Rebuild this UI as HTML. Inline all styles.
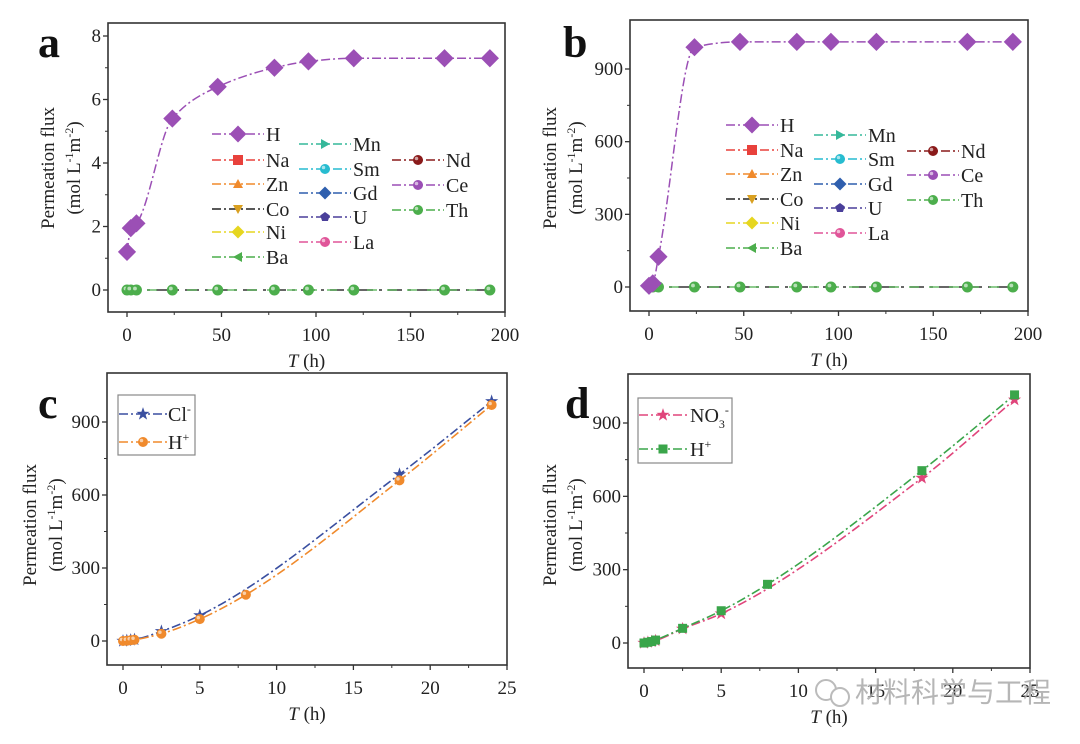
<!DOCTYPE html>
<html><head><meta charset="utf-8"><style>
html,body{margin:0;padding:0;background:#fff;}
svg{display:block;font-family:"Liberation Serif",serif;}
</style></head><body>
<svg id="s" width="1080" height="744" xmlns="http://www.w3.org/2000/svg"></svg>
<script>
const S=document.getElementById('s');let out='';
function cr(p){const n=p.length;const dx=[],sl=[];for(let i=0;i<n-1;i++){dx.push(p[i+1][0]-p[i][0]);sl.push((p[i+1][1]-p[i][1])/dx[i]);}
 const m=[sl[0]];for(let i=1;i<n-1;i++){if(sl[i-1]*sl[i]<=0)m.push(0);else{const w1=2*dx[i]+dx[i-1],w2=dx[i]+2*dx[i-1];m.push((w1+w2)/(w1/sl[i-1]+w2/sl[i]));}}m.push(sl[n-2]);
 let d='M'+p[0][0]+','+p[0][1];for(let i=0;i<n-1;i++){const h=dx[i]/3;d+=` C${p[i][0]+h},${p[i][1]+m[i]*h} ${p[i+1][0]-h},${p[i+1][1]-m[i+1]*h} ${p[i+1][0]},${p[i+1][1]}`;}return d;}
function mk(type,x,y,c,s){s=s||6;
 if(type=='dia')return `<polygon points="${x},${y-s*1.3} ${x+s*1.3},${y} ${x},${y+s*1.3} ${x-s*1.3},${y}" fill="${c}"/>`;
 if(type=='cir')return `<circle cx="${x}" cy="${y}" r="${s}" fill="${c}"/><circle cx="${x-1.5}" cy="${y-1.5}" r="${s*0.35}" fill="#fff" opacity=".6"/>`;
 if(type=='sq')return `<rect x="${x-s}" y="${y-s}" width="${2*s}" height="${2*s}" fill="${c}"/>`;
 if(type=='tri')return `<polygon points="${x},${y-s} ${x+s},${y+s*.8} ${x-s},${y+s*.8}" fill="${c}"/>`;
 if(type=='tri2')return `<polygon points="${x},${y+s} ${x+s},${y-s*.8} ${x-s},${y-s*.8}" fill="${c}"/>`;
 if(type=='trr')return `<polygon points="${x+s},${y} ${x-s*.8},${y-s} ${x-s*.8},${y+s}" fill="${c}"/>`;
 if(type=='trl')return `<polygon points="${x-s},${y} ${x+s*.8},${y-s} ${x+s*.8},${y+s}" fill="${c}"/>`;
 if(type=='pent'){let p=[];for(let i=0;i<5;i++){const a=-Math.PI/2+i*2*Math.PI/5;p.push((x+s*Math.cos(a)).toFixed(1)+','+(y+s*Math.sin(a)).toFixed(1));}return `<polygon points="${p.join(' ')}" fill="${c}"/>`;}
 if(type=='star'){let p=[];for(let i=0;i<10;i++){const r=i%2?s*0.45:s*1.15;const a=-Math.PI/2+i*Math.PI/5;p.push((x+r*Math.cos(a)).toFixed(1)+','+(y+r*Math.sin(a)).toFixed(1));}return `<polygon points="${p.join(' ')}" fill="${c}"/>`;}
}
const DASH='stroke-dasharray="9,3,2,3"';
function axes(o){
 let g=`<rect x="${o.bx0}" y="${o.by0}" width="${o.bx1-o.bx0}" height="${o.by1-o.by0}" fill="none" stroke="#333" stroke-width="1.6"/>`;
 const X=v=>o.x0+(o.x1-o.x0)*v/o.xmax;
 for(let v=0;v<=o.xmax;v+=o.xstep){g+=`<line x1="${X(v)}" x2="${X(v)}" y1="${o.by1}" y2="${o.by1+5}" stroke="#333" stroke-width="1.3"/>`;
  g+=`<text x="${X(v)}" y="${o.by1+29}" font-size="19" text-anchor="middle" fill="#222">${v}</text>`;
  const m=X(v+o.xstep/2);if(v+o.xstep/2<=o.xmax)g+=`<line x1="${m}" x2="${m}" y1="${o.by1}" y2="${o.by1+3}" stroke="#333"/>`;}
 o.yt.forEach((t,i)=>{g+=`<line x1="${o.bx0-5}" x2="${o.bx0}" y1="${t}" y2="${t}" stroke="#333" stroke-width="1.3"/>`;
  g+=`<text x="${o.bx0-7}" y="${t+6}" font-size="19" text-anchor="end" fill="#222">${o.yl[i]}</text>`;
  if(i<o.yt.length-1){const m=(t+o.yt[i+1])/2;g+=`<line x1="${o.bx0-3}" x2="${o.bx0}" y1="${m}" y2="${m}" stroke="#333"/>`;}});
 const cx=(o.bx0+o.bx1)/2;
 g+=`<text x="${cx}" y="${o.by1+55}" font-size="19" text-anchor="middle" fill="#222"><tspan font-style="italic">T</tspan> (h)</text>`;
 g+=`<text transform="translate(${o.yx},${o.yc}) rotate(-90)" font-size="19" text-anchor="middle" fill="#222">Permeation flux</text>`;
 g+=`<text transform="translate(${o.yx+26},${o.yc}) rotate(-90)" font-size="19" text-anchor="middle" fill="#222">(mol L<tspan dy="-7" font-size="12">-1</tspan><tspan dy="7">m</tspan><tspan dy="-7" font-size="12">-2</tspan><tspan dy="7">)</tspan></text>`;
 g+=`<text x="${o.lx}" y="${o.ly}" font-size="44" font-weight="bold" fill="#111">${o.lab}</text>`;
 return g;}
const legItems=[['H','dia','#9b4fb5'],['Na','sq','#e8413c'],['Zn','tri','#f08a2c'],['Co','tri2','#d9a020'],['Ni','dia','#e6d620'],['Ba','trl','#4cae4c'],
['Mn','trr','#35b89a'],['Sm','cir','#27bcd0'],['Gd','dia','#2f5fae'],['U','pent','#4a3f9a'],['La','cir','#e05599'],
['Nd','cir','#8a1a1a'],['Ce','cir','#9b4fb5'],['Th','cir','#4cae4c']];
function legend(c1,c2,c3,ys1,ys2,ys3){let g='';const cols=[[c1,ys1,0],[c2,ys2,6],[c3,ys3,11]];
 cols.forEach(([cx,ys,off])=>{ys.forEach((y,i)=>{const it=legItems[off+i];const lc=it[0]=='Co'?'#222':it[2];
  g+=`<line x1="${cx-26}" x2="${cx+26}" y1="${y}" y2="${y}" stroke="${lc}" stroke-width="1.5" ${DASH}/>`;
  g+=mk(it[1],cx,y,it[2],it[0]=='H'?6.5:5);
  g+=`<text x="${cx+28}" y="${y+7}" font-size="20" fill="#222">${it[0]}</text>`;});});return g;}
const tA=[0,2,5,24,48,78,96,120,168,192];
function panelTop(o,hv,leg){
 out+=axes(o);const X=v=>o.x0+(o.x1-o.x0)*v/o.xmax;
 const zy=o.yt[0];
 out+=`<line x1="${X(0)}" x2="${X(192)}" y1="${zy}" y2="${zy}" stroke="#333" stroke-width="1.5" stroke-dasharray="14,6,3,6"/>`;
 out+=`<line x1="${X(0)}" x2="${X(192)}" y1="${zy}" y2="${zy}" stroke="#4cae4c" stroke-width="1.3" stroke-dasharray="10,10"/>`;
 const pts=tA.map((t,i)=>[X(t),hv[i]]);
 out+=`<path d="${cr(pts)}" fill="none" stroke="#9b4fb5" stroke-width="1.5" ${DASH}/>`;
 tA.forEach(t=>out+=mk('cir',X(t),zy,'#4cae4c',5.5));
 pts.forEach(p=>out+=mk('dia',p[0],p[1],'#9b4fb5',7));
 out+=leg;}
const ya=v=>290-31.75*v;
panelTop({bx0:108,bx1:505,by0:23,by1:312,x0:127,x1:505,xmax:200,xstep:50,yt:[0,2,4,6,8].map(ya),yl:[0,2,4,6,8],yx:54,yc:168,lx:38,ly:57,lab:'a'},
 [1.2,1.95,2.1,5.4,6.4,7.0,7.2,7.3,7.3,7.3].map(ya),
 legend(238,325,418,[134,160,184,209,232,257],[144,169,193,217,242],[160,185,210]));
const yb=v=>287-v*218/900;
panelTop({bx0:630,bx1:1028,by0:20,by1:311,x0:649,x1:1028,xmax:200,xstep:50,yt:[0,300,600,900].map(yb),yl:[0,300,600,900],yx:556,yc:168,lx:563,ly:57,lab:'b'},
 [5,15,125,990,1012,1012,1012,1012,1012,1012].map(yb),
 legend(752,840,933,[125,150,174,199,223,248],[135,159,184,208,233],[151,175,200]));
function panelBot(o,series,lg){
 out+=axes(o);const X=v=>o.x0+(o.x1-o.x0)*v/o.xmax;
 series.forEach(s=>{const pts=s.d.map(p=>[X(p[0]),o.Y(p[1])]);
  out+=`<path d="${cr(pts)}" fill="none" stroke="${s.c}" stroke-width="1.6" ${DASH}/>`;});
 series.forEach(s=>s.d.forEach(p=>out+=mk(s.m,X(p[0]),o.Y(p[1]),s.c,s.s)));
 out+=`<rect x="${lg.x}" y="${lg.y}" width="${lg.w}" height="${lg.h}" fill="#fff" stroke="#888" stroke-width="1.2"/>`;
 series.forEach((s,i)=>{const y=lg.ys[i];out+=`<line x1="${lg.mx-24}" x2="${lg.mx+24}" y1="${y}" y2="${y}" stroke="${s.c}" stroke-width="1.5" ${DASH}/>`;
  out+=mk(s.m,lg.mx,y,s.c,s.s);out+=`<text x="${lg.tx}" y="${y+7}" font-size="20" fill="#222">${s.lab}</text>`;});}
const yc=v=>641-v*219/900;
panelBot({bx0:107,bx1:507,by0:373,by1:665,x0:123,x1:507,xmax:25,xstep:5,yt:[0,300,600,900].map(yc),yl:[0,300,600,900],yx:36,yc:525,lx:38,ly:418,lab:'c',Y:yc},
 [{c:'#3a4fa0',m:'star',s:6,lab:'Cl<tspan dy="-8" font-size="12">-</tspan>',d:[[0,0],[0.25,2],[0.5,4],[0.75,6],[2.5,40],[5,105],[18,685],[24,985]]},
  {c:'#f08a2c',m:'cir',s:5,lab:'H<tspan dy="-8" font-size="12">+</tspan>',d:[[0,0],[0.25,1],[0.5,3],[0.75,5],[2.5,30],[5,90],[8,190],[18,660],[24,970]]}],
 {x:118,y:395,w:77,h:60,mx:143,tx:168,ys:[414,442]});
const yd=v=>643-v*220/900;
panelBot({bx0:628,bx1:1030,by0:374,by1:668,x0:644,x1:1030,xmax:25,xstep:5,yt:[0,300,600,900].map(yd),yl:[0,300,600,900],yx:556,yc:525,lx:565,ly:418,lab:'d',Y:yd},
 [{c:'#e0457b',m:'star',s:6,lab:'NO<tspan dy="6" font-size="12">3</tspan><tspan dy="-14" font-size="12">-</tspan>',d:[[0,0],[0.25,3],[0.5,6],[0.75,10],[2.5,58],[5,120],[18,675],[24,995]]},
  {c:'#3aa54a',m:'sq',s:4.5,lab:'H<tspan dy="-8" font-size="12">+</tspan>',d:[[0,0],[0.25,3],[0.5,6],[0.75,12],[2.5,60],[5,132],[8,240],[18,705],[24,1015]]}],
 {x:638,y:398,w:94,h:65,mx:663,tx:690,ys:[415,449]});
out+=`<circle cx="826" cy="690" r="10" fill="none" stroke="#bbb" stroke-width="2"/><circle cx="840" cy="697" r="9" fill="#fff" stroke="#bbb" stroke-width="2"/>`;
out+=`<text x="855" y="702" font-size="28" fill="#aaa" opacity=".85" font-family="'Noto Sans CJK SC','WenQuanYi Zen Hei',sans-serif">材料科学与工程</text>`;
S.innerHTML=out;
</script>
</body></html>
